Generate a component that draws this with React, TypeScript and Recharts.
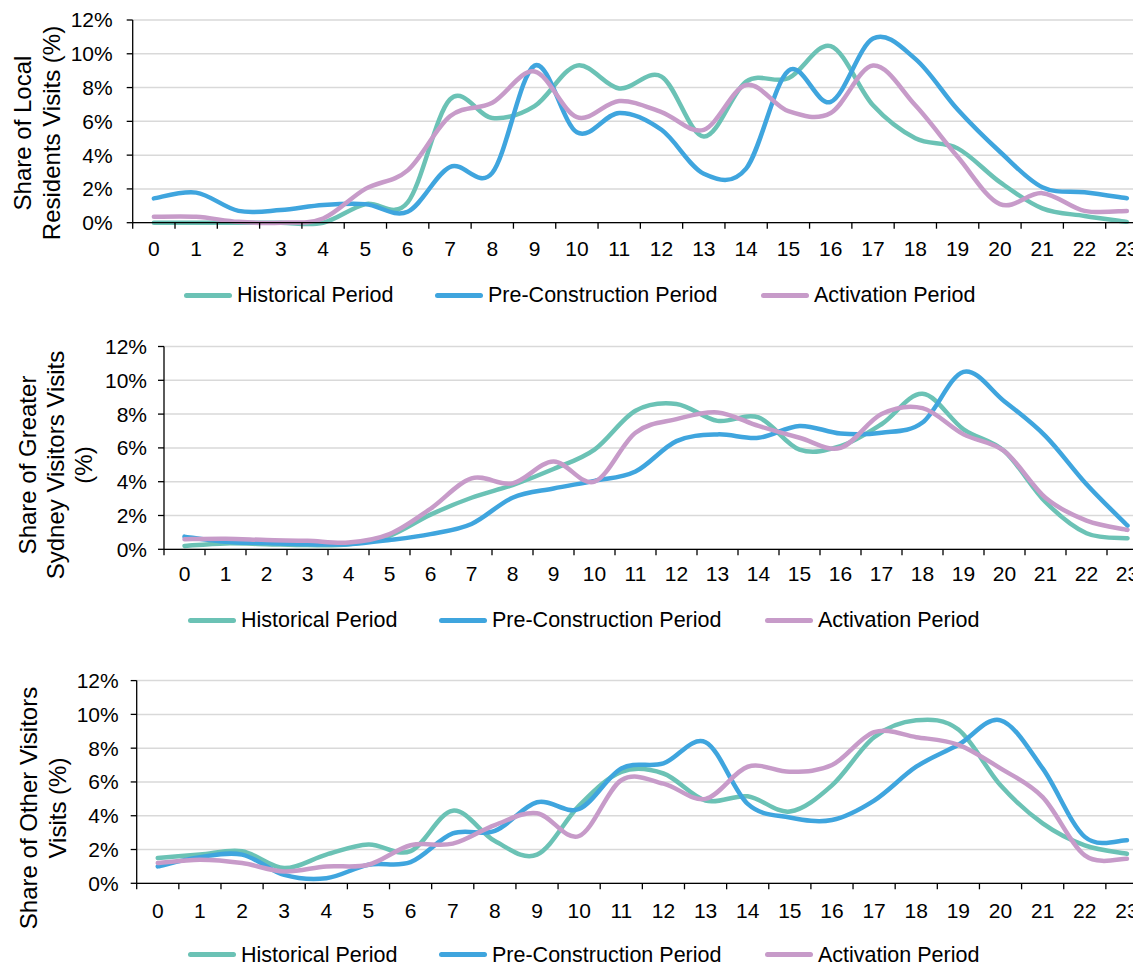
import React from 'react';
import { LineChart, Line, XAxis, YAxis, CartesianGrid, Legend } from 'recharts';

// ---------- data ----------
const hours = [0, 1, 2, 3, 4, 5, 6, 7, 8, 9, 10, 11, 12, 13, 14, 15, 16, 17, 18, 19, 20, 21, 22, 23];
const yTicks = [0, 2, 4, 6, 8, 10, 12];
const periodNames = ['Historical Period', 'Pre-Construction Period', 'Activation Period'];
const periodColors = ['#6BC2B5', '#3FA5DE', '#C79BC9'];

// Share of Local Residents Visits (%)
const localHistorical = [0, 0, 0, 0, 0, 1.1, 1.2, 7.3, 6.2, 6.9, 9.3, 7.95, 8.65, 5.1, 8.35, 8.55, 10.45, 6.95, 5.0, 4.4, 2.4, 0.85, 0.4, 0.05];
const localPreConstruction = [1.44, 1.78, 0.7, 0.75, 1.05, 1.1, 0.65, 3.3, 2.95, 9.3, 5.35, 6.5, 5.5, 2.9, 3.2, 9.0, 7.15, 10.9, 9.7, 6.7, 4.2, 2.1, 1.8, 1.45];
const localActivation = [0.35, 0.35, 0.05, 0.0, 0.25, 2.0, 3.1, 6.3, 7.1, 8.95, 6.25, 7.2, 6.55, 5.5, 8.15, 6.6, 6.5, 9.3, 6.95, 3.9, 1.1, 1.75, 0.7, 0.7];

// Share of Greater Sydney Visitors Visits (%)
const sydneyHistorical = [0.2, 0.35, 0.3, 0.25, 0.3, 0.8, 2.05, 3.05, 3.8, 4.75, 5.9, 8.2, 8.6, 7.6, 7.8, 5.9, 6.1, 7.4, 9.2, 7.1, 5.8, 2.8, 0.95, 0.65];
const sydneyPreConstruction = [0.75, 0.45, 0.37, 0.3, 0.3, 0.55, 0.9, 1.5, 3.05, 3.6, 4.05, 4.6, 6.4, 6.8, 6.6, 7.3, 6.85, 6.9, 7.5, 10.5, 8.75, 6.7, 3.85, 1.4];
const sydneyActivation = [0.6, 0.63, 0.55, 0.5, 0.4, 0.9, 2.4, 4.2, 3.9, 5.2, 4.0, 6.9, 7.7, 8.1, 7.3, 6.6, 6.0, 8.0, 8.35, 6.8, 5.8, 3.05, 1.7, 1.15];

// Share of Other Visitors Visits (%)
const otherHistorical = [1.5, 1.7, 1.9, 0.9, 1.7, 2.3, 1.9, 4.3, 2.5, 1.7, 4.6, 6.6, 6.5, 4.9, 5.15, 4.25, 5.8, 8.65, 9.65, 9.1, 5.8, 3.55, 2.25, 1.75];
const otherPreConstruction = [1.0, 1.55, 1.7, 0.5, 0.3, 1.1, 1.25, 2.95, 3.1, 4.8, 4.4, 6.8, 7.1, 8.35, 4.7, 3.9, 3.75, 4.9, 6.9, 8.2, 9.65, 6.8, 2.75, 2.55];
const otherActivation = [1.2, 1.4, 1.2, 0.7, 1.0, 1.1, 2.25, 2.35, 3.45, 4.15, 2.8, 6.1, 5.9, 5.0, 6.9, 6.6, 7.0, 8.95, 8.65, 8.2, 6.8, 5.1, 1.65, 1.45];

const localLabel = ['Share of Local', 'Residents Visits (%)'];
const sydneyLabel = ['Share of Greater', 'Sydney Visitors Visits', '(%)'];
const otherLabel = ['Share of Other Visitors', 'Visits (%)'];

// ---------- helpers ----------
const FONT = "'Liberation Sans', Arial, Helvetica, sans-serif";
const CHART_W = 1150;
const Y_AXIS_W = 70;
const MARGIN_R = 2;
const X_AXIS_H = 40;

function buildRows(h: number[], p: number[], a: number[]) {
  return hours.map((hour, i) => ({ hour, hist: h[i], pre: p[i], act: a[i] }));
}

// Excel-like smoothed line (Catmull-Rom through the points)
const excelSmooth: any = (context: any) => {
  let pts: [number, number][] = [];
  return {
    areaStart() {},
    areaEnd() {},
    lineStart() {
      pts = [];
    },
    point(x: number, y: number) {
      pts.push([+x, +y]);
    },
    lineEnd() {
      const n = pts.length;
      if (!n) return;
      context.moveTo(pts[0][0], pts[0][1]);
      for (let i = 0; i < n - 1; i++) {
        const p0 = pts[i > 0 ? i - 1 : 0];
        const p1 = pts[i];
        const p2 = pts[i + 1];
        const p3 = pts[i + 2 < n ? i + 2 : n - 1];
        context.bezierCurveTo(
          p1[0] + (p2[0] - p0[0]) / 6,
          p1[1] + (p2[1] - p0[1]) / 6,
          p2[0] - (p3[0] - p1[0]) / 6,
          p2[1] - (p3[1] - p1[1]) / 6,
          p2[0],
          p2[1]
        );
      }
    },
  };
};

type PanelProps = {
  top: number;
  height: number;
  marginTop: number;
  marginLeft: number;
  plotHeight: number;
  rows: any[];
  labelLines: string[];
  labelXs: number[];
  labelCY: number;
  yTickMargin: number;
  xLabelDy: number;
  legendLeft: number;
  legendCY: number;
};

function LegendContent() {
  const itemWidths = [251, 326, undefined];
  return (
    <div
      style={{
        display: 'flex',
        alignItems: 'center',
        fontFamily: FONT,
        fontSize: 21.5,
        lineHeight: '20px',
        height: 20,
        color: '#000',
        whiteSpace: 'nowrap',
      }}
    >
      {periodNames.map((name, i) => (
        <div
          key={name}
          style={{ display: 'flex', alignItems: 'center', width: itemWidths[i], flex: 'none' }}
        >
          <span
            style={{
              display: 'inline-block',
              width: 48,
              height: 5,
              borderRadius: 2.5,
              background: periodColors[i],
              marginRight: 5,
            }}
          />
          <span>{name}</span>
        </div>
      ))}
    </div>
  );
}

function Panel(props: PanelProps) {
  const {
    top,
    height,
    marginTop,
    marginLeft,
    plotHeight,
    rows,
    labelLines,
    labelXs,
    labelCY,
    yTickMargin,
    xLabelDy,
    legendLeft,
    legendCY,
  } = props;
  const plotWidth = CHART_W - marginLeft - Y_AXIS_W - MARGIN_R;
  const band = plotWidth / 24;
  const marginBottom = height - marginTop - plotHeight - X_AXIS_H;

  const renderHourTick = (p: any) => {
    const { x, y, payload, index } = p;
    const axisY = y;
    return (
      <g>
        <line x1={x - band / 2} x2={x - band / 2} y1={axisY} y2={axisY + 6} stroke="#000" strokeWidth={1.3} />
        {index === hours.length - 1 && (
          <line x1={x + band / 2} x2={x + band / 2} y1={axisY} y2={axisY + 6} stroke="#000" strokeWidth={1.3} />
        )}
        <text
          x={x}
          y={axisY + xLabelDy}
          textAnchor="middle"
          dominantBaseline="central"
          fontFamily={FONT}
          fontSize={21}
          fill="#000"
        >
          {payload.value}
        </text>
      </g>
    );
  };

  const renderYLabel = () => (
    <g>
      {labelLines.map((line, i) => (
        <text
          key={line}
          x={labelXs[i]}
          y={labelCY}
          transform={`rotate(-90 ${labelXs[i]} ${labelCY})`}
          textAnchor="middle"
          dominantBaseline="central"
          fontFamily={FONT}
          fontSize={24}
          fill="#000"
        >
          {line}
        </text>
      ))}
    </g>
  );

  return (
    <div style={{ position: 'absolute', left: 0, top, width: CHART_W, height }}>
      <LineChart
        width={CHART_W}
        height={height}
        data={rows}
        margin={{ top: marginTop, right: MARGIN_R, bottom: marginBottom, left: marginLeft }}
      >
        <CartesianGrid horizontal vertical={false} stroke="#D9D9D9" strokeWidth={1.5} />
        <XAxis
          dataKey="hour"
          type="number"
          domain={[-0.5, 23.5]}
          ticks={hours}
          interval={0}
          tickSize={0}
          tickMargin={0}
          tickLine={false}
          axisLine={{ stroke: '#000', strokeWidth: 1.3 }}
          height={X_AXIS_H}
          tick={renderHourTick}
        />
        <YAxis
          type="number"
          domain={[0, 12]}
          ticks={yTicks}
          interval={0}
          width={Y_AXIS_W}
          tickSize={6}
          tickMargin={yTickMargin}
          tickFormatter={(v: number) => `${v}%`}
          tick={{ fontFamily: FONT, fontSize: 21, fill: '#000' }}
          tickLine={{ stroke: '#000', strokeWidth: 1.3 }}
          axisLine={{ stroke: '#000', strokeWidth: 1.3 }}
          label={renderYLabel}
        />
        <Legend
          layout="horizontal"
          verticalAlign="middle"
          align="center"
          content={() => <LegendContent />}
          wrapperStyle={{ left: legendLeft, top: legendCY - 10, width: 'auto', height: 20 }}
        />
        <Line
          type={excelSmooth}
          dataKey="hist"
          name={periodNames[0]}
          stroke={periodColors[0]}
          strokeWidth={4.5}
          strokeLinecap="round"
          strokeLinejoin="round"
          dot={false}
          activeDot={false}
          isAnimationActive={false}
        />
        <Line
          type={excelSmooth}
          dataKey="pre"
          name={periodNames[1]}
          stroke={periodColors[1]}
          strokeWidth={4.5}
          strokeLinecap="round"
          strokeLinejoin="round"
          dot={false}
          activeDot={false}
          isAnimationActive={false}
        />
        <Line
          type={excelSmooth}
          dataKey="act"
          name={periodNames[2]}
          stroke={periodColors[2]}
          strokeWidth={4.5}
          strokeLinecap="round"
          strokeLinejoin="round"
          dot={false}
          activeDot={false}
          isAnimationActive={false}
        />
      </LineChart>
    </div>
  );
}

export default function App() {
  const localRows = buildRows(localHistorical, localPreConstruction, localActivation);
  const sydneyRows = buildRows(sydneyHistorical, sydneyPreConstruction, sydneyActivation);
  const otherRows = buildRows(otherHistorical, otherPreConstruction, otherActivation);
  return (
    <div
      style={{
        position: 'relative',
        width: 1133,
        height: 965,
        overflow: 'hidden',
        background: '#fff',
      }}
    >
      <style>{`html,body{margin:0;padding:0;overflow:hidden;background:#fff;}`}</style>
      <Panel
        top={0}
        height={330}
        marginTop={20}
        marginLeft={62.7}
        plotHeight={202.7}
        rows={localRows}
        labelLines={localLabel}
        labelXs={[22, 51]}
        labelCY={133}
        yTickMargin={14}
        xLabelDy={26}
        legendLeft={184}
        legendCY={295}
      />
      <Panel
        top={330}
        height={330}
        marginTop={16.5}
        marginLeft={94}
        plotHeight={202.8}
        rows={sydneyRows}
        labelLines={sydneyLabel}
        labelXs={[27.5, 55.5, 83.5]}
        labelCY={135}
        yTickMargin={11}
        xLabelDy={24}
        legendLeft={188}
        legendCY={290}
      />
      <Panel
        top={660}
        height={305}
        marginTop={20.6}
        marginLeft={66.7}
        plotHeight={202.7}
        rows={otherRows}
        labelLines={otherLabel}
        labelXs={[28, 57]}
        labelCY={148}
        yTickMargin={12}
        xLabelDy={27}
        legendLeft={188}
        legendCY={294.5}
      />
    </div>
  );
}
